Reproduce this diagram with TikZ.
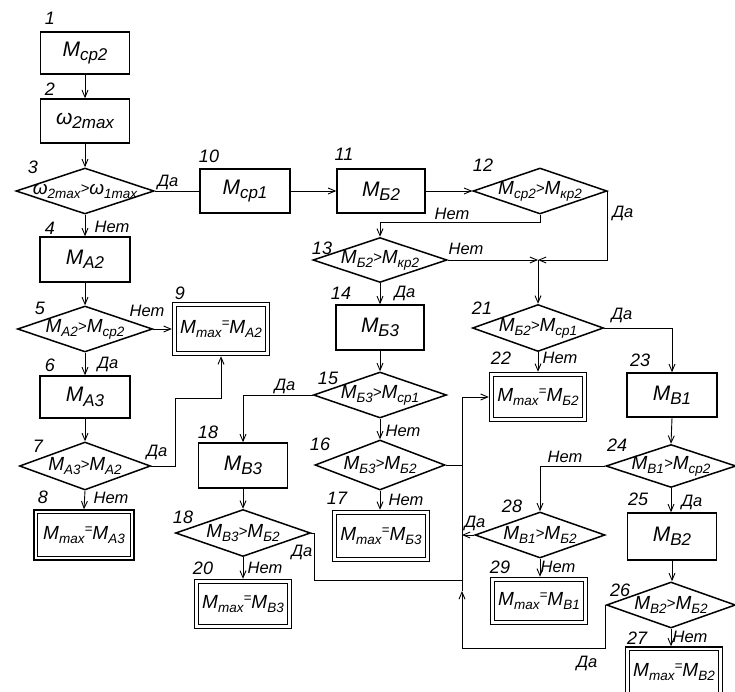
\documentclass[tikz,border=0pt]{standalone}
\usepackage{fontspec}
\setmainfont{Liberation Sans}
\usetikzlibrary{shapes.geometric,arrows.meta}
\newcommand{\subsz}{13.5pt}
\newcommand{\fmain}{\fontsize{19pt}{20pt}\selectfont\itshape}
\newcommand{\fbig}{\fontsize{21pt}{22pt}\selectfont\itshape\renewcommand{\subsz}{17pt}}
\newcommand{\fsubs}{\fontsize{\subsz}{\subsz}\selectfont\itshape}
\newcommand{\fnum}{\fontsize{18pt}{18pt}\selectfont\itshape}
\newcommand{\flab}{\fontsize{16.5pt}{17pt}\selectfont\itshape}
\newcommand{\ls}[1]{\raisebox{-0.4ex}{\fsubs #1}}
\newcommand{\rgt}{\raisebox{0.1ex}{\fontsize{15pt}{15pt}\selectfont\itshape >}}
\newcommand{\Mx}[1]{M\ls{#1}}
\newcommand{\Meq}[1]{M\ls{max}\raisebox{0.6ex}{\fsubs =}M\ls{#1}}
\newcommand{\cmp}[2]{\makebox[0pt]{\Mx{#1}\rgt\Mx{#2}}}
\begin{document}
\begin{tikzpicture}[x=1pt,y=-1pt,
  sz/.style 2 args={minimum width=#1pt, minimum height=#2pt},
  frame/.style={draw, rectangle, line width=1.5pt, inner sep=0pt},
  box/.style={frame, font=\fbig},
  dbox/.style={frame, font=\fmain},
  dia/.style={draw, diamond, line width=1.5pt, inner sep=0pt, font=\fmain},
  num/.style={inner sep=0pt, font=\fnum},
  lab/.style={inner sep=0pt, font=\flab},
  ln/.style={line width=0.9pt},
  arr/.style={line width=0.9pt, -{Straight Barb[length=7pt,width=6pt]}}]
\useasboundingbox (0,0) rectangle (735,692);

% left column
\node[box, sz={89}{42}] (b1) at (85,53) {\Mx{ср2}};
\node[box, sz={89}{44}] (b2) at (85,121) {ω\ls{2max}};
\node[dia, sz={138}{46}] (d3) at (85,191) {\makebox[0pt]{ω\ls{2max}\rgt ω\ls{1max}}};
\node[box, sz={90}{45}] (b4) at (85,259.5) {\Mx{A2}};
\node[dia, sz={135}{46}] (d5) at (85,329) {\cmp{A2}{ср2}};
\node[box, sz={90}{42}] (b6) at (85,397) {\Mx{A3}};
\node[dia, sz={131}{48}] (d7) at (85,466) {\cmp{A3}{A2}};
\node[dbox, sz={100}{50}] (b8) at (84,535) {\Meq{A3}};
\node[dbox, sz={97}{53}] (b9) at (221,329) {\Meq{A2}};

% middle
\node[box, sz={90}{44}] (b10) at (245,191) {\Mx{ср1}};
\node[box, sz={88}{44}] (b11) at (381,191) {\Mx{Б2}};
\node[dia, sz={134}{46}] (d12) at (540,191) {\cmp{ср2}{кр2}};
\node[dia, sz={134}{45}] (d13) at (380,260) {\cmp{Б2}{кр2}};
\node[box, sz={88}{45}] (b14) at (380,327.5) {\Mx{Б3}};
\node[dia, sz={133}{46}] (d15) at (380,395) {\cmp{Б3}{ср1}};
\node[dia, sz={130}{50}] (d16) at (380,465) {\cmp{Б3}{Б2}};
\node[dbox, sz={97}{51}] (b17) at (381,536) {\Meq{Б3}};
\node[box, sz={89}{45}] (b18) at (243,465.5) {\Mx{В3}};
\node[dia, sz={135}{47}] (d18) at (243,533) {\cmp{В3}{Б2}};
\node[dbox, sz={97}{49}] (b20) at (243,604) {\Meq{В3}};

% right
\coordinate (j) at (538,260);
\node[dia, sz={131}{47}] (d21) at (538,328) {\cmp{Б2}{ср1}};
\node[dbox, sz={97}{49}] (b22) at (538,397) {\Meq{Б2}};
\node[box, sz={90}{44}] (b23) at (672,395) {\Mx{В1}};
\node[dia, sz={130}{43}] (d24) at (671,466) {\cmp{В1}{ср2}};
\node[box, sz={89}{47}] (b25) at (672,536.5) {\Mx{В2}};
\node[dia, sz={129}{46}] (d26) at (671,605) {\cmp{В2}{Б2}};
\node[dbox, sz={97}{50}] (b27) at (674,672) {\Meq{В2}};
\node[dia, sz={130}{46}] (d28) at (540,535) {\cmp{В1}{Б2}};
\node[dbox, sz={97}{47}] (b29) at (539,601) {\Meq{В1}};

% inner frames of the double boxes
\foreach \n in {b8,b9,b17,b20,b22,b27,b29}
  \draw[line width=1pt] ([shift={(4.5,4.5)}]\n.north west) rectangle ([shift={(-4.5,-4.5)}]\n.south east);

% bus
\coordinate (bt) at (462,397);
\coordinate (bj) at (462,580);
\coordinate (bm) at (462,591);
\coordinate (bb) at (462,648);
\coordinate (c7) at (175,398);

% connectors left
\draw[arr] (b1.south) -- (b2.north);
\draw[arr] (b2.south) -- (d3.north);
\draw[ln] (d3.east) -- (b10.west);
\draw[arr] (d3.south) -- (b4.north);
\draw[arr] (b4.south) -- (d5.north);
\draw[arr] (d5.east) -- (b9.west);
\draw[arr] (d5.south) -- (b6.north);
\draw[arr] (b6.south) -- (d7.north);
\draw[arr] (d7.south) -- (b8.north);
\draw[arr] (d7.east) -| (c7) -| (b9.south);

% connectors middle
\draw[arr] (b10.east) -- (b11.west);
\draw[arr] (b11.east) -- (d12.west);
\draw[arr] (d12.south) -- ++(0,8) -| (d13.north);
\draw[arr] (d12.east) |- (j);
\draw[arr] (d13.east) -- (j);
\draw[arr] (j) -- (d21.north);
\draw[arr] (d13.south) -- (b14.north);
\draw[arr] (b14.south) -- (d15.north);
\draw[arr] (d15.south) -- (d16.north);
\draw[arr] (d16.south) -- (d16.south |- b17.north);
\draw[arr] (d15.west) -| (b18.north);
\draw[arr] (b18.south) -- (d18.north);
\draw[arr] (d18.south) -- (b20.north);
\draw[ln] (d18.east) -- ++(3,0) |- (bj);
\draw[ln] (d16.east) -- (d16.east -| bt);

% bus
\draw[arr] (d26.west) |- (bb) -- (bm);
\draw[arr] (bm) -- (bt) -- (b22.west);
\draw[arr] (d28.west) -- (d28.west -| bt);

% connectors right
\draw[arr] (d21.south) -- (b22.north);
\draw[arr] (d21.east) -| (b23.north);
\draw[arr] (b23.south) -- (d24.north);
\draw[arr] (d24.south) -- (d24.south |- b25.north);
\draw[arr] (b25.south) -- (b25.south |- d26.north);
\draw[arr] (d26.south) -- (d26.south |- b27.north);
\draw[arr] (d24.west) -| (d28.north);
\draw[arr] (d28.south) -- (d28.south |- b29.north);

% numbers
\node[num] (n1) at (50,18) {1};
\node[num] (n2) at (50,89) {2};
\node[num] (n3) at (33,167) {3};
\node[num] (n4) at (50,228) {4};
\node[num] (n5) at (40,308) {5};
\node[num] (n6) at (50,365) {6};
\node[num] (n7) at (38,446) {7};
\node[num] (n8) at (43,497) {8};
\node[num] (n9) at (180,293) {9};
\node[num] (n10) at (209,156) {10};
\node[num] (n11) at (344,154) {11};
\node[num] (n12) at (483,165) {12};
\node[num] (n13) at (322,248) {13};
\node[num] (n14) at (341,293) {14};
\node[num] (n15) at (328,378) {15};
\node[num] (n16) at (320,444) {16};
\node[num] (n17) at (337,498) {17};
\node[num] (n18a) at (208,432) {18};
\node[num] (n18b) at (183,517) {18};
\node[num] (n20) at (203,568) {20};
\node[num] (n21) at (482,308) {21};
\node[num] (n22) at (501,358) {22};
\node[num] (n23) at (640,360) {23};
\node[num] (n24) at (617,445) {24};
\node[num] (n25) at (638,499) {25};
\node[num] (n26) at (620,590) {26};
\node[num] (n27) at (637,638) {27};
\node[num] (n28) at (512,506) {28};
\node[num] (n29) at (500,567) {29};

% yes / no labels
\node[lab] (l3y) at (168,182) {Да};
\node[lab] (l3n) at (112,227) {Нет};
\node[lab] (l5n) at (147,311) {Нет};
\node[lab] (l5y) at (108,364) {Да};
\node[lab] (l7y) at (157,452) {Да};
\node[lab] (l7n) at (111,498) {Нет};
\node[lab] (l12n) at (452,214) {Нет};
\node[lab] (l12y) at (623,213) {Да};
\node[lab] (l13n) at (466,249) {Нет};
\node[lab] (l13y) at (405,293) {Да};
\node[lab] (l15y) at (285,386) {Да};
\node[lab] (l15n) at (403,431) {Нет};
\node[lab] (l16n) at (406,500) {Нет};
\node[lab] (l18n) at (265,568) {Нет};
\node[lab] (l18y) at (302,552) {Да};
\node[lab] (l21y) at (622,315) {Да};
\node[lab] (l21n) at (560,358) {Нет};
\node[lab] (l24n) at (565,457) {Нет};
\node[lab] (l24y) at (692,502) {Да};
\node[lab] (l28y) at (475,523) {Да};
\node[lab] (l28n) at (558,567) {Нет};
\node[lab] (l26n) at (690,637) {Нет};
\node[lab] (l26y) at (587,663) {Да};
\end{tikzpicture}
\end{document}
